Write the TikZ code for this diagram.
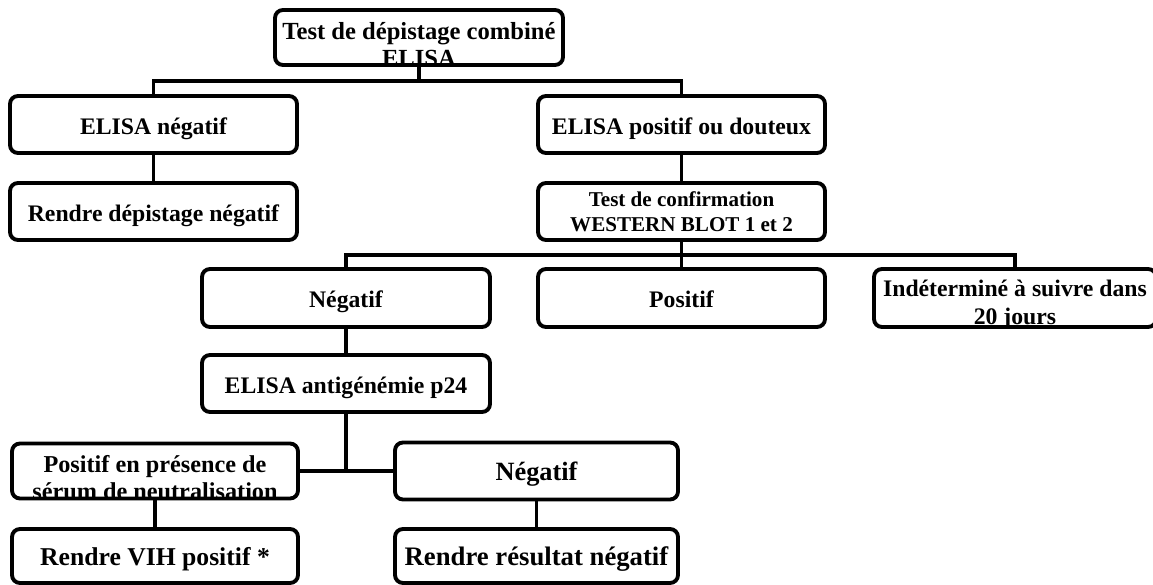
\documentclass[tikz,border=0pt]{standalone}
\usepackage{fontspec}
\setmainfont{Liberation Serif}
\usetikzlibrary{positioning}

\begin{document}
\begin{tikzpicture}
    [line width=2.2pt,
    boite/.style={draw, rounded corners=4.5pt, inner sep=0pt, align=center,
        minimum width=5.74cm, minimum height=1.14cm,
        text height=11.2pt, text depth=0pt,
        font=\bfseries\fontsize{13.5}{15.5}\selectfont},
    deux/.style={text height=, text depth=},
    texte/.style={inner sep=0pt, align=center, anchor=north, deux},
    coupe/.style 2 args={path picture={
        \node[texte] at ([yshift=#1]path picture bounding box.north) {#2};}}]
        \useasboundingbox (0,0) rectangle (23.06,-11.70);

        %% Depistage
        \node[boite, minimum width=5.76cm, minimum height=1.10cm,
            font=\bfseries\fontsize{14}{15.4}\selectfont,
            coupe={-0.10cm}{Test de dépistage combiné\\ELISA}] (T) at (8.38,-0.75) {};
        \node[boite] (EN) at (3.07,-2.49) {ELISA négatif};
        \node[boite] (EP) at (13.63,-2.49) {ELISA positif ou douteux};
        \node[boite] (RD) at (3.07,-4.23) {Rendre dépistage négatif};
        \node[boite, deux, font=\bfseries\fontsize{12}{14}\selectfont] (WB) at (13.63,-4.23)
            {Test de confirmation\\WESTERN BLOT 1 et 2};

        %% Western blot
        \node[boite, minimum width=5.76cm, minimum height=1.16cm] (WN) at (6.92,-5.96) {Négatif};
        \node[boite, minimum height=1.16cm] (WP) at (13.63,-5.96) {Positif};
        \node[boite, minimum width=5.64cm, minimum height=1.16cm,
            font=\bfseries\fontsize{13.5}{15.9}\selectfont,
            coupe={-0.10cm}{Indéterminé à suivre dans\\20 jours}] (WI) at (20.30,-5.96) {};

        %% Antigenemie
        \node[boite, minimum width=5.76cm] (AG) at (6.92,-7.67) {ELISA antigénémie p24};
        \node[boite, minimum width=5.72cm, minimum height=1.10cm,
            font=\bfseries\fontsize{13.8}{15.4}\selectfont,
            coupe={-0.10cm}{Positif en présence de\\sérum de neutralisation}] (AP) at (3.10,-9.42) {};
        \node[boite, minimum width=5.66cm, font=\bfseries\fontsize{15}{17}\selectfont]
            (AN) at (10.73,-9.42) {Négatif};
        \node[boite, minimum width=5.72cm, minimum height=1.08cm,
            font=\bfseries\fontsize{14.6}{17}\selectfont] (RV) at (3.10,-11.12) {Rendre VIH positif *};
        \node[boite, minimum width=5.66cm, minimum height=1.08cm,
            font=\bfseries\fontsize{15.2}{17}\selectfont] (RR) at (10.73,-11.12) {Rendre résultat négatif};

        \coordinate (B1) at (8.38,-1.62);
        \coordinate (B2) at (13.63,-5.10);
        \coordinate (B3) at (6.92,-9.42);

        \draw (T) -- (B1);
        \draw (EN.north) |- (B1) -| (EP.north);
        \draw (EN) -- (RD);
        \draw (EP) -- (WB);
        \draw (WB) -- (WP);
        \draw (WN.north) |- (B2) -| (WI.north);
        \draw (WN) -- (AG);
        \draw (AG) -- (B3);
        \draw (AP.east) -- (AN.west);
        \draw (AP) -- (RV);
        \draw (AN) -- (RR);
    \end{tikzpicture}
\end{document}
